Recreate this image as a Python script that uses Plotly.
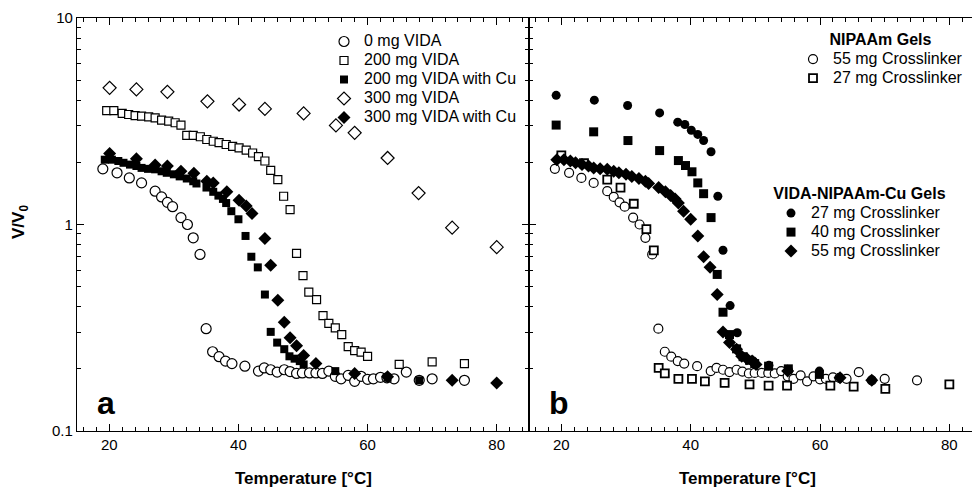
import plotly.graph_objects as go

# ---------------- data ----------------
# NIPAAm gel, 55 mg crosslinker (= 0 mg VIDA)
t_nipa55 = [19.0, 21.2, 23.1, 25.0, 27.1, 28.1, 29.0, 29.8, 31.1, 32.1, 33.0, 34.05, 35.0, 36.0, 37.0, 38.0, 39.0,
            41.0, 43.1, 44.0, 45.0, 46.0, 47.1, 48.0, 49.0, 49.9, 51.0, 52.0, 53.0, 54.0, 55.0, 55.9, 57.0, 58.0,
            59.0, 60.0, 60.9, 62.0, 63.0, 64.1, 66.0, 68.0, 70.0, 75.0]
v_nipa55 = [1.86, 1.78, 1.68, 1.59, 1.45, 1.36, 1.28, 1.22, 1.08, 1.00, 0.862, 0.716, 0.313, 0.242, 0.229, 0.218, 0.212,
            0.206, 0.195, 0.202, 0.198, 0.193, 0.198, 0.194, 0.190, 0.191, 0.191, 0.191, 0.190, 0.195, 0.184, 0.179,
            0.186, 0.174, 0.184, 0.178, 0.179, 0.182, 0.181, 0.179, 0.193, 0.176, 0.179, 0.176]

# 200 mg VIDA
t_v200 = [19.6, 20.7, 22.0, 23.0, 24.0, 25.0, 26.1, 27.1, 28.1, 29.2, 30.2, 31.1, 32.0, 33.0, 34.1, 35.1, 36.1, 37.0,
          38.1, 39.1, 40.1, 41.2, 42.2, 43.1, 44.1, 45.0, 46.1, 47.0, 48.0, 49.0, 50.0, 50.9, 52.1, 53.1, 54.0, 55.0,
          56.0, 57.0, 58.0, 59.0, 60.0, 64.9, 70.0, 75.0]
v_v200 = [3.56, 3.56, 3.45, 3.41, 3.37, 3.35, 3.32, 3.28, 3.20, 3.17, 3.11, 3.03, 2.70, 2.70, 2.66, 2.58, 2.53, 2.49,
          2.44, 2.39, 2.35, 2.29, 2.22, 2.13, 2.03, 1.83, 1.65, 1.37, 1.18, 0.724, 0.566, 0.470, 0.433, 0.362, 0.332,
          0.316, 0.293, 0.256, 0.245, 0.241, 0.230, 0.210, 0.216, 0.212]

# 200 mg VIDA with Cu (= VIDA-NIPAAm-Cu, 55 mg crosslinker)
t_v200cu = [19.3, 20.4, 21.4, 22.2, 23.2, 24.2, 25.0, 26.0, 27.1, 28.1, 28.9, 30.0, 30.9, 32.0, 33.0, 33.5, 35.05,
            36.1, 36.9, 37.6, 38.1, 38.9, 40.0, 41.1, 42.0, 43.0, 44.1, 45.0, 46.0, 47.1, 47.9, 48.7, 49.5, 50.1,
            55.0, 63.1, 68.0]
v_v200cu = [2.06, 2.06, 2.03, 1.99, 1.95, 1.92, 1.88, 1.86, 1.85, 1.81, 1.78, 1.75, 1.71, 1.67, 1.62, 1.58, 1.51,
            1.44, 1.38, 1.33, 1.27, 1.16, 1.06, 0.88, 0.698, 0.62, 0.458, 0.302, 0.268, 0.249, 0.230, 0.224, 0.218,
            0.210, 0.195, 0.181, 0.176]

# 300 mg VIDA
t_v300 = [20.05, 24.2, 29.0, 35.2, 40.1, 44.1, 50.1, 55.1, 58.0, 63.1, 67.9, 73.1, 80.0]
v_v300 = [4.59, 4.51, 4.39, 3.95, 3.81, 3.63, 3.45, 3.02, 2.78, 2.10, 1.42, 0.965, 0.777]

# 300 mg VIDA with Cu
t_v300cu = [20.05, 24.2, 27.1, 29.0, 31.1, 33.1, 35.1, 36.1, 38.2, 40.1, 41.2, 42.1, 44.1, 45.0, 46.1, 47.1, 48.0,
            49.0, 50.1, 52.0, 58.0, 63.1, 73.1, 80.0]
v_v300cu = [2.21, 2.08, 1.94, 1.92, 1.81, 1.77, 1.62, 1.59, 1.44, 1.31, 1.23, 1.13, 0.855, 0.635, 0.43, 0.336, 0.283,
            0.259, 0.232, 0.212, 0.190, 0.183, 0.176, 0.171]

# NIPAAm gel, 27 mg crosslinker
t_nipa27 = [20.0, 23.5, 27.1, 29.15, 31.2, 33.15, 34.3, 35.05, 36.0, 38.1, 40.2, 42.2, 45.25, 49.1, 52.05, 54.9, 61.6,
            65.2, 70.1, 80.0]
v_nipa27 = [2.16, 1.98, 1.65, 1.51, 1.26, 0.95, 0.75, 0.202, 0.190, 0.179, 0.179, 0.174, 0.171, 0.168, 0.166, 0.166,
            0.166, 0.164, 0.160, 0.168]

# VIDA-NIPAAm-Cu, 27 mg crosslinker
t_cu27 = [19.2, 25.1, 30.25, 35.2, 38.0, 39.1, 40.1, 41.1, 42.0, 43.15, 44.2, 45.0, 46.1, 47.2, 49.7, 52.1, 55.1, 59.9]
v_cu27 = [4.22, 4.00, 3.77, 3.47, 3.13, 3.05, 2.86, 2.73, 2.55, 2.25, 1.37, 0.75, 0.405, 0.299, 0.218, 0.208, 0.198,
          0.195]

# VIDA-NIPAAm-Cu, 40 mg crosslinker
t_cu40 = [19.2, 25.0, 30.3, 35.2, 38.1, 39.2, 40.2, 41.1, 42.0, 43.15, 44.1, 45.0, 46.0, 47.1, 48.1, 49.1, 49.9,
          52.05, 55.1, 59.9]
v_cu40 = [3.03, 2.81, 2.55, 2.28, 2.04, 1.93, 1.80, 1.59, 1.41, 1.08, 0.573, 0.376, 0.293, 0.250, 0.229, 0.220, 0.212,
          0.206, 0.200, 0.188]

# ---------------- figure ----------------
fig = go.Figure()
BL = "black"


def big(s, bold=False):
    inner = f"<b>{s}</b>" if bold else s
    return f'<span style="font-size:16px">{inner}</span>'


def add(x, y, name, symbol, size, xa, ya, legend, filled, lw=1.2):
    fig.add_trace(go.Scatter(
        x=x, y=y, mode="markers", name=big(name), xaxis=xa, yaxis=ya, legend=legend,
        marker=dict(symbol=symbol, size=size,
                    color=BL if filled else "white",
                    line=dict(color=BL, width=0 if filled else lw)),
    ))


# panel a
add(t_nipa55, v_nipa55, "0 mg VIDA", "circle", 10, "x", "y", "legend", False)
add(t_v200, v_v200, "200 mg VIDA", "square", 8, "x", "y", "legend", False)
add(t_v200cu, v_v200cu, "200 mg VIDA with Cu", "square", 8, "x", "y", "legend", True)
add(t_v300, v_v300, "300 mg VIDA", "diamond", 10, "x", "y", "legend", False)
add(t_v300cu, v_v300cu, "300 mg VIDA with Cu", "diamond", 10, "x", "y", "legend", True)

# panel b
add(t_nipa55, v_nipa55, "55 mg Crosslinker", "circle", 9, "x2", "y2", "legend2", False)
add(t_nipa27, v_nipa27, "27 mg Crosslinker", "square", 8, "x2", "y2", "legend2", False, lw=1.8)
add(t_cu27, v_cu27, "27 mg Crosslinker", "circle", 9, "x2", "y2", "legend3", True)
add(t_cu40, v_cu40, "40 mg Crosslinker", "square", 9, "x2", "y2", "legend3", True)
add(t_v200cu, v_v200cu, "55 mg Crosslinker", "diamond", 10, "x2", "y2", "legend3", True)

FONT = "Liberation Sans, Arial, sans-serif"
W, H = 972, 489
ml, mr, mt, mb = 77, 0, 18, 58
PW = W - ml - mr
PH = H - mt - mb
split = (529 - ml) / PW


def px_x(p):
    return (p - ml) / PW


def px_y(p):
    return 1 - (p - mt) / PH


xcommon = dict(
    showline=True, linecolor=BL, linewidth=1.3, mirror="ticks", automargin=False,
    ticks="inside", ticklen=7, tickwidth=1, tickcolor=BL,
    tickvals=[20, 40, 60, 80], showgrid=False, zeroline=False,
    minor=dict(ticks="inside", ticklen=4, tickwidth=1, tickcolor=BL, dtick=2, tick0=0, showgrid=False),
    tickfont=dict(family=FONT, size=15, color=BL),
)
ycommon = dict(
    type="log", range=[-1, 1], showline=True, linecolor=BL, linewidth=1.3, automargin=False,
    ticks="inside", ticklen=7, tickwidth=1, tickcolor=BL, dtick=1,
    showgrid=False, zeroline=False,
    minor=dict(ticks="inside", ticklen=4, tickwidth=1, tickcolor=BL, showgrid=False),
    tickfont=dict(family=FONT, size=15, color=BL),
)

LF = dict(family=FONT, size=12, color=BL)

fig.update_layout(
    width=W, height=H,
    margin=dict(l=ml, r=mr, t=mt, b=mb, autoexpand=False),
    paper_bgcolor="white", plot_bgcolor="white",
    font=dict(family=FONT, color=BL),
    xaxis=dict(xcommon, domain=[0, split], range=[15, 85], anchor="y"),
    xaxis2=dict(xcommon, domain=[split, 1], range=[15, 15 + (W - 529) / 6.467], anchor="y2"),
    yaxis=dict(ycommon, domain=[0, 1], anchor="x", mirror="ticks"),
    yaxis2=dict(ycommon, domain=[0, 1], anchor="x2", matches="y", showticklabels=False),
    legend=dict(x=px_x(324), y=px_y(27), xanchor="left", yanchor="top",
                font=LF, bgcolor="rgba(0,0,0,0)", itemwidth=30, tracegroupgap=0),
    legend2=dict(x=px_x(793), y=px_y(29), xanchor="left", yanchor="top",
                 title=dict(text=big("NIPAAm Gels", True), side="top center", font=LF),
                 font=LF, bgcolor="rgba(0,0,0,0)", itemwidth=30),
    legend3=dict(x=px_x(771), y=px_y(183), xanchor="left", yanchor="top",
                 title=dict(text=big("VIDA-NIPAAm-Cu Gels", True), side="top center", font=LF),
                 font=LF, bgcolor="rgba(0,0,0,0)", itemwidth=30),
    showlegend=True,
    annotations=[
        dict(text="<b>a</b>", xref="x domain", yref="y domain", x=0.04, y=0.02, xanchor="left", yanchor="bottom",
             showarrow=False, font=dict(family=FONT, size=32, color=BL)),
        dict(text="<b>b</b>", xref="x2 domain", yref="y2 domain", x=0.04, y=0.02, xanchor="left", yanchor="bottom",
             showarrow=False, font=dict(family=FONT, size=32, color=BL)),
        dict(text="<b>Temperature [°C]</b>", xref="x domain", yref="paper", x=0.5, y=px_y(478),
             xanchor="center", yanchor="middle", showarrow=False, font=dict(family=FONT, size=17, color=BL)),
        dict(text="<b>Temperature [°C]</b>", xref="x2 domain", yref="paper", x=(747 - 529) / (W - 529),
             y=px_y(478), xanchor="center", yanchor="middle", showarrow=False,
             font=dict(family=FONT, size=17, color=BL)),
        dict(text="<b>V/V<sub>0</sub></b>", xref="paper", yref="paper", x=px_x(20), y=px_y(222),
             xanchor="center", yanchor="middle", textangle=-90, showarrow=False,
             font=dict(family=FONT, size=17, color=BL)),
    ],
)

fig.write_html("out.html", config={"displayModeBar": False},
               post_script="document.body.style.margin='0';document.body.style.overflow='hidden';")
